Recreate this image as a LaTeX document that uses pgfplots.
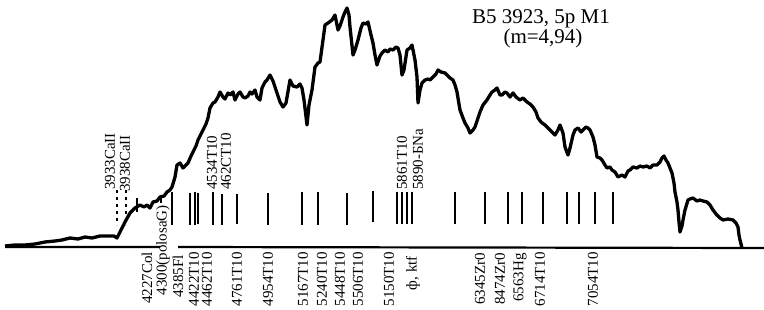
\documentclass[border=0pt]{standalone}
\usepackage{pgfplots}
\pgfplotsset{compat=1.18}
\usepackage{fontspec}
\setmainfont{Liberation Serif}
\tikzset{lab/.style={rotate=90, inner sep=0pt, font=\fontsize{15}{17}\selectfont}}
\begin{document}
\begin{tikzpicture}
\begin{axis}[
  scale only axis, width=764pt, height=309pt,
  xmin=0, xmax=764, ymin=0, ymax=309, y dir=reverse,
  axis lines=none, clip=false,
]
% baseline
\addplot[black, line width=2.2pt, unbounded coords=jump] coordinates {
 (5,247) (160,247) (nan,nan) (178,247) (764,248)
};
% spectrum trace
\addplot[black, line width=3.3pt, line join=round] coordinates {
(5,246)(15,245)(25,245)(35,244)(45,242)(55,241)(62,240)(70,238)(78,239)(85,237)(92,238)(100,236)(108,236)(114,236)(117,238)
(120,232)(125,222)(130,213)(135,208)(140,205)(144,207)(147,205)(150,208)(153,202)(157,201)(160,197)(164,196)(167,192)(170,190)
(172,187)(175,177)(177,165)(180,163)(183,168)(186,165)(188,163)(191,156)(193,152)(196,146)(198,140)(201,134)(203,130)(206,124)
(208,118)(210,108)(213,103)(215,102)(218,97)(220,92)(223,97)(225,99)(228,93)(230,95)(233,92)(235,100)(238,94)(240,92)(243,97)
(245,98)(248,96)(250,92)(252,94)(255,90)(257,97)(260,100)(262,88)(265,82)(267,80)(270,75)(273,81)(276,90)(280,102)(283,107)
(286,103)(290,80)(293,86)(297,87)(300,84)(302,88)(304,100)(307,125)(309,105)(312,90)(315,67)(318,63)(320,62)(323,40)(325,25)
(328,23)(332,20)(335,15)(338,30)(340,26)(343,17)(345,12)(347,8)(349,15)(350,27)(353,55)(355,50)(358,40)(361,28)(363,23)(366,24)
(368,22)(371,35)(373,43)(375,55)(377,65)(380,56)(382,53)(385,50)(388,52)(390,49)(393,50)(396,47)(398,48)(400,55)(402,75)(404,70)
(407,50)(410,48)(412,45)(415,60)(417,77)(418,103)(420,90)(422,83)(425,80)(428,79)(430,80)(433,77)(436,74)(438,70)(441,72)(445,73)
(447,75)(450,78)(453,80)(455,85)(457,92)(460,110)(463,118)(465,123)(468,128)(470,133)(473,130)(475,127)(478,118)(480,112)(483,105)
(487,100)(490,95)(492,92)(495,90)(497,88)(500,95)(502,95)(505,92)(507,93)(510,97)(513,93)(516,97)(520,100)(523,98)(527,102)(530,104)
(533,107)(536,112)(538,118)(541,122)(545,125)(548,128)(550,130)(553,133)(555,135)(558,130)(560,125)(563,133)(565,147)(568,155)
(570,148)(573,135)(575,130)(578,128)(581,132)(583,130)(586,127)(588,128)(590,130)(593,137)(595,145)(597,157)(600,158)(602,160)
(605,165)(607,168)(610,167)(612,170)(615,172)(618,177)(622,175)(625,177)(628,171)(630,170)(633,167)(637,168)(640,166)(643,167)
(647,166)(650,168)(653,165)(657,165)(660,162)(662,158)(664,156)(666,160)(668,163)(670,168)(672,173)(674,183)(675,192)(677,202)
(678,210)(679,222)(680,232)(682,226)(683,220)(685,210)(688,200)(690,199)(693,198)(697,201)(700,200)(703,201)(707,202)(710,205)
(713,210)(716,214)(720,218)(723,220)(728,219)(733,220)(736,223)(738,227)(739,235)(740,240)(742,248)
};
% line marks (solid)
\addplot[black, line width=2.8pt, unbounded coords=jump] coordinates {
(137,198)(137,212)(nan,nan)
(172,192)(172,225)(nan,nan)
(190,193)(190,225)(nan,nan)
(195,192)(195,225)(nan,nan)
(198,193)(198,224)(nan,nan)
(213,192)(213,225)(nan,nan)
(222,194)(222,225)(nan,nan)
(237,194)(237,224)(nan,nan)
(268,193)(268,225)(nan,nan)
(302,192)(302,225)(nan,nan)
(318,192)(318,225)(nan,nan)
(347,193)(347,225)(nan,nan)
(373,191)(373,222)(nan,nan)
(397,192)(397,224)(nan,nan)
(402,192)(402,224)(nan,nan)
(407,192)(407,224)(nan,nan)
(412,192)(412,224)(nan,nan)
(455,192)(455,224)(nan,nan)
(485,192)(485,224)(nan,nan)
(508,192)(508,224)(nan,nan)
(522,192)(522,224)(nan,nan)
(543,192)(543,224)(nan,nan)
(567,192)(567,224)(nan,nan)
(579,192)(579,224)(nan,nan)
(595,192)(595,224)(nan,nan)
(613,192)(613,224)(nan,nan)
};
% dotted marks for Ca II
\addplot[black, line width=2pt, dash pattern=on 3pt off 4pt, unbounded coords=jump] coordinates {
(117,190)(117,225)(nan,nan)
(126,190)(126,225)
};
\addplot[black, line width=2pt] coordinates {(161,195)(161,203)};
% title
\node[inner sep=0pt, font=\fontsize{21}{23}\selectfont, anchor=center] at (axis cs:541,19) {B5 3923, 5p M1};
\node[inner sep=0pt, font=\fontsize{21}{23}\selectfont, anchor=center] at (axis cs:543,38) {(m=4,94)};
% upper labels
\node[lab, anchor=west] at (axis cs:110,190) {3933CaII};
\node[lab, anchor=west] at (axis cs:125,192) {3938CaII};
\node[lab, anchor=west] at (axis cs:212,190) {4534T10};
\node[lab, anchor=west] at (axis cs:226,190) {462CT10};
\node[lab, anchor=west] at (axis cs:402,190) {5861T10};
\node[lab, anchor=west] at (axis cs:418,190) {5890-БNa};
% lower labels
\node[lab, anchor=east] at (axis cs:147,252) {4227Col};
\node[lab, anchor=east] at (axis cs:163,205) {4300(polosaG)};
\node[lab, anchor=east] at (axis cs:178,255) {4385Fl};
\node[lab, anchor=east] at (axis cs:194,252) {4422T10};
\node[lab, anchor=east] at (axis cs:207,252) {4462T10};
\node[lab, anchor=east] at (axis cs:237,252) {4761T10};
\node[lab, anchor=east] at (axis cs:268,252) {4954T10};
\node[lab, anchor=east] at (axis cs:303,252) {5167T10};
\node[lab, anchor=east] at (axis cs:322,252) {5240T10};
\node[lab, anchor=east] at (axis cs:340,252) {5448T10};
\node[lab, anchor=east] at (axis cs:358,252) {5506T10};
\node[lab, anchor=east] at (axis cs:389,252) {5150T10};
\node[lab, anchor=east] at (axis cs:413,256) {ф, ktf};
\node[lab, anchor=east] at (axis cs:480,253) {6345Zr0};
\node[lab, anchor=east] at (axis cs:500,253) {8474Zr0};
\node[lab, anchor=east] at (axis cs:520,253) {6563Hg};
\node[lab, anchor=east] at (axis cs:540,252) {6714T10};
\node[lab, anchor=east] at (axis cs:593,252) {7054T10};
\end{axis}
\pgfresetboundingbox
\path (current axis.south west) rectangle (current axis.north east);
\end{tikzpicture}
\end{document}
